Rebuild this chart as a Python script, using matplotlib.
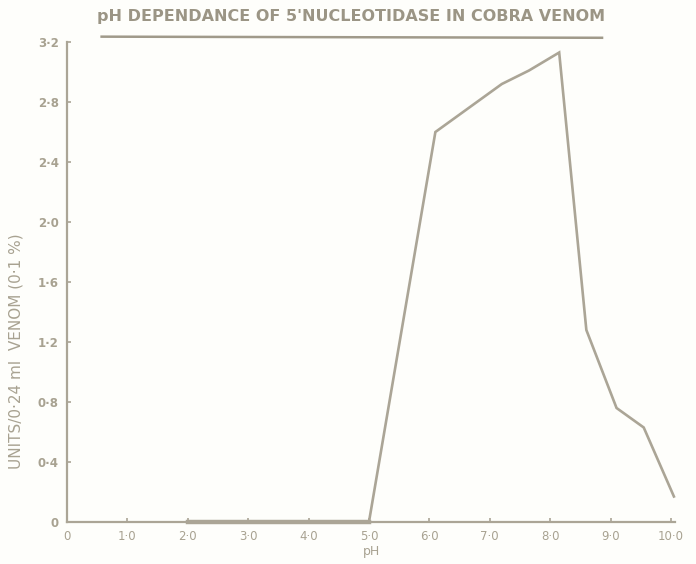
import matplotlib
matplotlib.use('Agg')
import matplotlib.pyplot as plt
from matplotlib.lines import Line2D

## Data
ph = [2.0, 3.0, 4.0, 5.0, 6.1, 7.2, 7.65, 8.15, 8.6, 9.1, 9.55, 10.05]
units = [0.0, 0.0, 0.0, 0.0, 2.6, 2.92, 3.01, 3.13, 1.28, 0.76, 0.63, 0.17]

xticks = [0, 1, 2, 3, 4, 5, 6, 7, 8, 9, 10]
xticklabels = ['0', '1·0', '2·0', '3·0', '4·0', '5·0', '6·0', '7·0', '8·0', '9·0', '10·0']
yticks = [0, 0.4, 0.8, 1.2, 1.6, 2.0, 2.4, 2.8, 3.2]
yticklabels = ['0', '0·4', '0·8', '1·2', '1·6', '2·0', '2·4', '2·8', '3·2']

ink = '#aba596'
txt = '#a8a291'
paper = '#fefefb'

fig = plt.figure(figsize=(6.96, 5.64), dpi=100, facecolor=paper)
ax = fig.add_axes([0.0963, 0.0745, 0.8737, 0.851])
ax.set_facecolor(paper)

ax.plot(ph, units, color=ink, lw=1.9, solid_joinstyle='miter', clip_on=False, zorder=3)
# thick band along the baseline where activity is nil
ax.plot(ph[:4], units[:4], color=ink, lw=3.2, clip_on=False, zorder=3)

ax.set_xlim(0, 10.07)
ax.set_ylim(0, 3.2)

for s in ['top', 'right']:
    ax.spines[s].set_visible(False)
for s in ['left', 'bottom']:
    ax.spines[s].set_color(ink)
    ax.spines[s].set_linewidth(1.6)

ax.set_xticks(xticks)
ax.set_xticklabels(xticklabels)
ax.set_yticks(yticks)
ax.set_yticklabels(yticklabels)
ax.tick_params(direction='in', length=3, width=1.2, color=ink, labelcolor=txt,
               labelsize=8.5, pad=6)
for lab in ax.get_yticklabels():
    lab.set_fontweight('bold')

ax.set_xlabel('pH', color=txt, fontsize=9, labelpad=1)
ax.set_ylabel('UNITS/0·24 ml  VENOM (0·1 %)', color=txt, fontsize=11)
ax.yaxis.set_label_coords(-0.072, 0.355)

## Title + hand-drawn underline
fig.text(0.505, 0.970, "pH DEPENDANCE OF 5'NUCLEOTIDASE IN COBRA VENOM",
         ha='center', va='center', color='#9b9585', fontsize=11.5, fontweight='bold')
fig.add_artist(Line2D([0.146, 0.865], [0.935, 0.933], color='#a09a8a', lw=1.8,
                      transform=fig.transFigure))

plt.savefig('out.png', dpi=100, facecolor=paper)
